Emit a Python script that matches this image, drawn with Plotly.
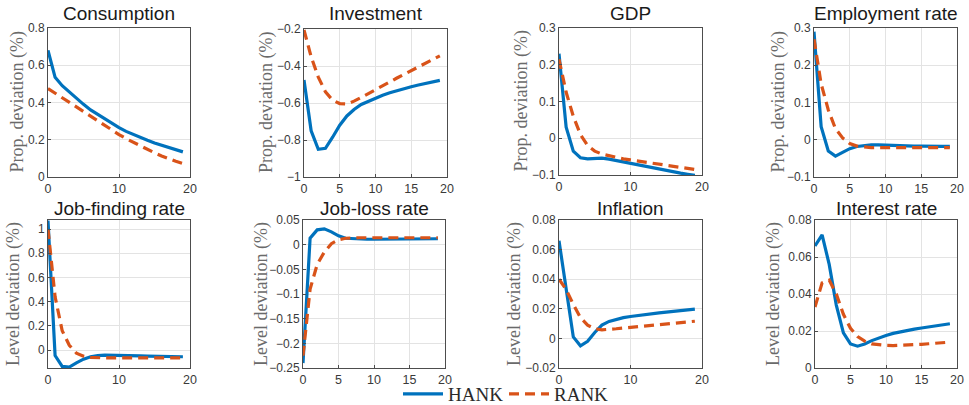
import plotly.graph_objects as go

W, H = 969, 405

periods = list(range(20))

titles = ["Consumption", "Investment", "GDP", "Employment rate",
          "Job-finding rate", "Job-loss rate", "Inflation", "Interest rate"]

hank_consumption = [0.68, 0.535, 0.49, 0.455, 0.42, 0.39, 0.36, 0.335, 0.31, 0.285,
                    0.265, 0.245, 0.228, 0.212, 0.197, 0.183, 0.17, 0.158, 0.146, 0.135]
rank_consumption = [0.475, 0.45, 0.425, 0.4, 0.375, 0.35, 0.325, 0.3, 0.275, 0.25,
                    0.228, 0.206, 0.186, 0.166, 0.148, 0.13, 0.113, 0.097, 0.084, 0.072]

hank_investment = [-0.475, -0.75, -0.85, -0.845, -0.785, -0.72, -0.67, -0.635, -0.608, -0.59,
                   -0.573, -0.558, -0.545, -0.533, -0.522, -0.512, -0.503, -0.495, -0.487, -0.478]
rank_investment = [-0.205, -0.35, -0.46, -0.54, -0.585, -0.603, -0.605, -0.59, -0.57, -0.55,
                   -0.528, -0.507, -0.486, -0.465, -0.445, -0.425, -0.405, -0.385, -0.365, -0.345]

hank_gdp = [0.23, 0.03, -0.035, -0.053, -0.056, -0.055, -0.054, -0.057, -0.061, -0.065,
            -0.069, -0.073, -0.077, -0.081, -0.085, -0.088, -0.092, -0.095, -0.098, -0.101]
rank_gdp = [0.215, 0.125, 0.06, 0.01, -0.02, -0.035, -0.043, -0.048, -0.052, -0.056,
            -0.059, -0.062, -0.065, -0.068, -0.071, -0.074, -0.077, -0.080, -0.082, -0.085]

hank_employment = [0.29, 0.035, -0.03, -0.044, -0.034, -0.024, -0.018, -0.015, -0.014, -0.014,
                   -0.015, -0.016, -0.016, -0.017, -0.017, -0.017, -0.018, -0.018, -0.018, -0.018]
rank_employment = [0.27, 0.15, 0.08, 0.03, 0.005, -0.01, -0.017, -0.02, -0.021, -0.021,
                   -0.021, -0.021, -0.021, -0.021, -0.021, -0.021, -0.021, -0.021, -0.021, -0.021]

hank_job_finding = [1.07, -0.045, -0.135, -0.14, -0.105, -0.075, -0.055, -0.045, -0.042, -0.042,
                    -0.043, -0.045, -0.046, -0.048, -0.05, -0.051, -0.052, -0.053, -0.054, -0.055]
rank_job_finding = [1.0, 0.44, 0.16, 0.04, -0.025, -0.05, -0.06, -0.064, -0.065, -0.065,
                    -0.065, -0.065, -0.065, -0.065, -0.065, -0.065, -0.065, -0.065, -0.065, -0.065]

hank_job_loss = [-0.24, 0.013, 0.03, 0.032, 0.026, 0.018, 0.013, 0.012, 0.011, 0.011,
                 0.011, 0.011, 0.011, 0.011, 0.011, 0.012, 0.012, 0.012, 0.012, 0.012]
rank_job_loss = [-0.225, -0.09, -0.04, -0.015, 0.002, 0.01, 0.013, 0.014, 0.014, 0.014,
                 0.014, 0.014, 0.014, 0.014, 0.014, 0.014, 0.014, 0.014, 0.014, 0.014]

hank_inflation = [0.066, 0.035, 0.001, -0.005, -0.002, 0.004, 0.009, 0.0115, 0.013, 0.014,
                  0.0148, 0.0155, 0.016, 0.0166, 0.0172, 0.0177, 0.0183, 0.0188, 0.0193, 0.0198]
rank_inflation = [0.04, 0.033, 0.023, 0.014, 0.009, 0.0065, 0.0058, 0.006, 0.0065, 0.007,
                  0.0075, 0.008, 0.0085, 0.009, 0.0095, 0.01, 0.0105, 0.011, 0.0113, 0.0116]

hank_interest = [0.066, 0.072, 0.056, 0.034, 0.019, 0.013, 0.0118, 0.013, 0.0148, 0.0163,
                 0.0176, 0.0187, 0.0196, 0.0203, 0.021, 0.0216, 0.0222, 0.0228, 0.0234, 0.0239]
rank_interest = [0.033, 0.046, 0.0475, 0.04, 0.029, 0.0215, 0.017, 0.0145, 0.013, 0.0125,
                 0.0122, 0.0121, 0.0122, 0.0124, 0.0126, 0.0128, 0.0131, 0.0134, 0.0137, 0.014]

hank_series = [hank_consumption, hank_investment, hank_gdp, hank_employment,
               hank_job_finding, hank_job_loss, hank_inflation, hank_interest]
rank_series = [rank_consumption, rank_investment, rank_gdp, rank_employment,
               rank_job_finding, rank_job_loss, rank_inflation, rank_interest]

y_titles = ["Prop. deviation (%)"] * 4 + ["Level deviation (%)"] * 4

y_ranges = [[0, 0.8], [-1, -0.2], [-0.1, 0.3], [-0.1, 0.3],
            [-0.148, 1.075], [-0.25, 0.05], [-0.02, 0.08], [0, 0.08]]
y_dticks = [0.2, 0.2, 0.1, 0.1, 0.2, 0.05, 0.02, 0.02]
x_dticks = [10, 5, 10, 5, 10, 5, 10, 5]

# panel boxes in pixels: left, right, top, bottom
boxes = [(48, 190, 28, 177), (304, 447, 29, 177), (559, 702, 28, 175), (814, 957, 28, 177),
         (48, 190, 220, 368), (303, 445, 220, 368), (559, 702, 220, 368), (815, 957, 220, 368)]
title_centers_y = [14, 14, 14, 14, 208, 208, 208, 208]
# horizontal centre of each rotated y-axis label, in pixels
ylabel_x = [17, 266, 521, 778, 13, 261, 514, 773]

BLUE = "#0072BD"
ORANGE = "#D95319"
AXIS = "#4d4d4d"
GRID = "#e3e3e3"
SERIF = "Liberation Serif, DejaVu Serif, serif"
SANS = "Liberation Sans, Arial, sans-serif"

fig = go.Figure()
layout = dict(
    width=W, height=H, margin=dict(l=0, r=0, t=0, b=0, autoexpand=False),
    paper_bgcolor="white", plot_bgcolor="white",
    font=dict(family=SANS, size=12, color="#3a3a3a"),
)
annotations = []

for i in range(8):
    xa = "x" if i == 0 else f"x{i + 1}"
    ya = "y" if i == 0 else f"y{i + 1}"
    l, r, t, b = boxes[i]
    fig.add_trace(go.Scatter(
        x=periods, y=hank_series[i], xaxis=xa, yaxis=ya, mode="lines",
        line=dict(color=BLUE, width=3.2), name="HANK",
        showlegend=(i == 0), legend="legend"))
    fig.add_trace(go.Scatter(
        x=periods, y=rank_series[i], xaxis=xa, yaxis=ya, mode="lines",
        line=dict(color=ORANGE, width=3.2, dash="10px,6px"), name="RANK",
        showlegend=(i == 0), legend="legend2"))

    key_x = "xaxis" if i == 0 else f"xaxis{i + 1}"
    key_y = "yaxis" if i == 0 else f"yaxis{i + 1}"
    layout[key_x] = dict(
        domain=[l / W, r / W], anchor=ya, range=[0, 20], dtick=x_dticks[i], tick0=0,
        showline=True, mirror=True, linecolor=AXIS, linewidth=1,
        showgrid=True, gridcolor=GRID, zeroline=False,
        ticks="inside", ticklen=3, tickcolor=AXIS, automargin=False,
        tickfont=dict(size=12.5, color="#3a3a3a"), fixedrange=True)
    layout[key_y] = dict(
        domain=[1 - b / H, 1 - t / H], anchor=xa, range=y_ranges[i], dtick=y_dticks[i],
        tick0=0, showline=True, mirror=True, linecolor=AXIS, linewidth=1,
        showgrid=True, gridcolor=GRID, zeroline=False,
        ticks="inside", ticklen=3, tickcolor=AXIS, automargin=False,
        tickfont=dict(size=12, color="#3a3a3a"), fixedrange=True)
    annotations.append(dict(
        text=titles[i], x=(l + r) / 2 / W, y=1 - title_centers_y[i] / H,
        xref="paper", yref="paper", xanchor="center", yanchor="middle",
        showarrow=False,
        font=dict(family=SANS, size=19, color="#1a1a1a")))
    annotations.append(dict(
        text=y_titles[i], x=ylabel_x[i] / W, y=1 - (t + b) / 2 / H,
        xref="paper", yref="paper", xanchor="center", yanchor="middle",
        textangle=-90, showarrow=False,
        font=dict(family=SERIF, size=18, color="#6a6a6a")))

layout["annotations"] = annotations
legend_font = dict(family=SERIF, size=19, color="#2a2a2a")
layout["legend"] = dict(
    orientation="h", x=398 / W, y=1 - 394 / H, xanchor="left", yanchor="middle",
    bgcolor="rgba(0,0,0,0)", itemwidth=40, font=legend_font)
layout["legend2"] = dict(
    orientation="h", x=504 / W, y=1 - 394 / H, xanchor="left", yanchor="middle",
    bgcolor="rgba(0,0,0,0)", itemwidth=40, font=legend_font)

fig.update_layout(**layout)
fig.write_html("out.html")
